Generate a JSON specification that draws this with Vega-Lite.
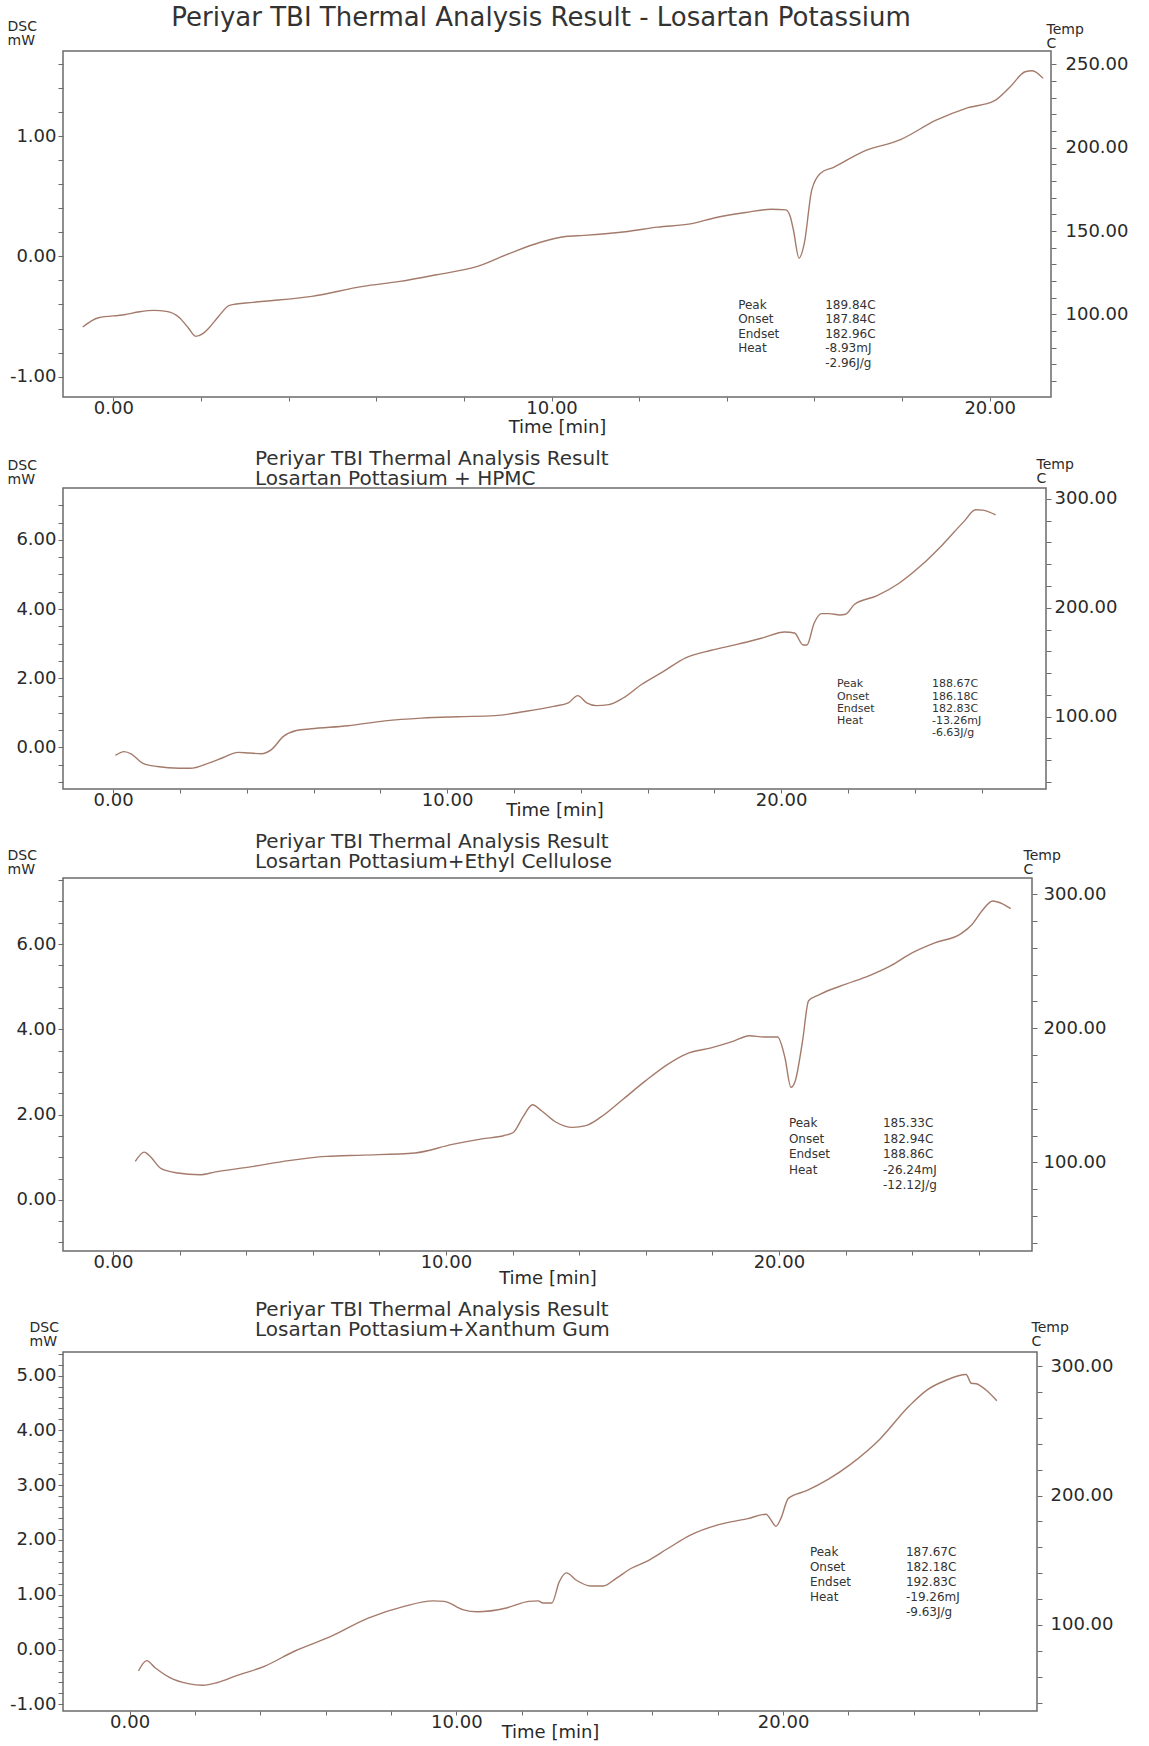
{
  "$schema": "https://vega.github.io/schema/vega-lite/v6.json",
  "background": "white",
  "padding": {"left": 6, "top": 4, "right": 0, "bottom": 0},
  "spacing": 11,
  "datasets": {
    "lp": [
      {"t": -0.70, "v": -0.587}, {"t": -0.34, "v": -0.51}, {"t": 0.25, "v": -0.485}, {"t": 0.6, "v": -0.46},
      {"t": 0.92, "v": -0.449}, {"t": 1.21, "v": -0.457}, {"t": 1.51, "v": -0.51}, {"t": 1.7, "v": -0.59},
      {"t": 1.88, "v": -0.665}, {"t": 2.05, "v": -0.64}, {"t": 2.18, "v": -0.596}, {"t": 2.4, "v": -0.5},
      {"t": 2.65, "v": -0.407}, {"t": 3.19, "v": -0.382}, {"t": 4.53, "v": -0.332}, {"t": 5.70, "v": -0.249},
      {"t": 6.54, "v": -0.208}, {"t": 7.38, "v": -0.152}, {"t": 8.31, "v": -0.083}, {"t": 9.06, "v": 0.028},
      {"t": 9.73, "v": 0.116}, {"t": 10.32, "v": 0.166}, {"t": 10.74, "v": 0.175}, {"t": 11.74, "v": 0.208},
      {"t": 12.42, "v": 0.244}, {"t": 13.17, "v": 0.271}, {"t": 13.76, "v": 0.324}, {"t": 14.43, "v": 0.366},
      {"t": 15.02, "v": 0.393}, {"t": 15.35, "v": 0.388}, {"t": 15.45, "v": 0.33}, {"t": 15.52, "v": 0.222},
      {"t": 15.65, "v": -0.014}, {"t": 15.77, "v": 0.111}, {"t": 15.94, "v": 0.554}, {"t": 16.14, "v": 0.693},
      {"t": 16.44, "v": 0.742}, {"t": 17.11, "v": 0.873}, {"t": 17.95, "v": 0.970}, {"t": 18.79, "v": 1.136},
      {"t": 19.46, "v": 1.233}, {"t": 20.10, "v": 1.294}, {"t": 20.47, "v": 1.413}, {"t": 20.81, "v": 1.537},
      {"t": 20.97, "v": 1.546}, {"t": 21.22, "v": 1.482}
    ],
    "hpmc": [
      {"t": 0.07, "v": -0.23}, {"t": 0.33, "v": -0.12}, {"t": 0.55, "v": -0.19}, {"t": 0.88, "v": -0.45},
      {"t": 1.32, "v": -0.55}, {"t": 1.98, "v": -0.60}, {"t": 2.31, "v": -0.60}, {"t": 2.86, "v": -0.45},
      {"t": 3.30, "v": -0.29}, {"t": 3.74, "v": -0.14}, {"t": 4.07, "v": -0.16}, {"t": 4.44, "v": -0.18},
      {"t": 4.73, "v": -0.07}, {"t": 5.10, "v": 0.32}, {"t": 5.49, "v": 0.49}, {"t": 5.93, "v": 0.54},
      {"t": 7.03, "v": 0.63}, {"t": 8.13, "v": 0.77}, {"t": 9.23, "v": 0.85}, {"t": 10.33, "v": 0.89},
      {"t": 11.43, "v": 0.92}, {"t": 12.31, "v": 1.04}, {"t": 13.19, "v": 1.19}, {"t": 13.63, "v": 1.29},
      {"t": 13.91, "v": 1.50}, {"t": 14.18, "v": 1.29}, {"t": 14.46, "v": 1.21}, {"t": 14.84, "v": 1.24},
      {"t": 15.27, "v": 1.43}, {"t": 15.82, "v": 1.82}, {"t": 16.48, "v": 2.20}, {"t": 17.14, "v": 2.59},
      {"t": 17.91, "v": 2.81}, {"t": 18.68, "v": 2.98}, {"t": 19.45, "v": 3.17}, {"t": 20.11, "v": 3.34},
      {"t": 20.40, "v": 3.31}, {"t": 20.66, "v": 2.96}, {"t": 20.77, "v": 2.96}, {"t": 20.99, "v": 3.60},
      {"t": 21.21, "v": 3.87}, {"t": 21.43, "v": 3.87}, {"t": 21.76, "v": 3.83}, {"t": 21.93, "v": 3.85},
      {"t": 22.20, "v": 4.14}, {"t": 22.86, "v": 4.38}, {"t": 23.52, "v": 4.74}, {"t": 24.18, "v": 5.25},
      {"t": 24.84, "v": 5.87}, {"t": 25.49, "v": 6.55}, {"t": 25.82, "v": 6.87}, {"t": 26.04, "v": 6.86},
      {"t": 26.42, "v": 6.72}
    ],
    "ethyl": [
      {"t": 0.67, "v": 0.90}, {"t": 0.94, "v": 1.12}, {"t": 1.09, "v": 1.04}, {"t": 1.45, "v": 0.73},
      {"t": 1.94, "v": 0.63}, {"t": 2.61, "v": 0.59}, {"t": 3.05, "v": 0.65}, {"t": 4.17, "v": 0.78},
      {"t": 5.28, "v": 0.92}, {"t": 6.40, "v": 1.02}, {"t": 7.51, "v": 1.05}, {"t": 9.07, "v": 1.10},
      {"t": 10.19, "v": 1.30}, {"t": 11.08, "v": 1.43}, {"t": 11.75, "v": 1.51}, {"t": 12.02, "v": 1.58},
      {"t": 12.31, "v": 1.94}, {"t": 12.60, "v": 2.23}, {"t": 12.87, "v": 2.09}, {"t": 13.31, "v": 1.82},
      {"t": 13.80, "v": 1.70}, {"t": 14.20, "v": 1.74}, {"t": 14.65, "v": 1.94}, {"t": 15.32, "v": 2.36},
      {"t": 15.99, "v": 2.79}, {"t": 16.66, "v": 3.18}, {"t": 17.21, "v": 3.42}, {"t": 17.99, "v": 3.57},
      {"t": 18.66, "v": 3.73}, {"t": 19.11, "v": 3.85}, {"t": 19.56, "v": 3.82}, {"t": 19.96, "v": 3.82},
      {"t": 20.18, "v": 3.34}, {"t": 20.36, "v": 2.64}, {"t": 20.49, "v": 2.79}, {"t": 20.71, "v": 3.73},
      {"t": 20.89, "v": 4.67}, {"t": 21.23, "v": 4.82}, {"t": 22.01, "v": 5.06}, {"t": 22.68, "v": 5.25},
      {"t": 23.35, "v": 5.49}, {"t": 24.01, "v": 5.80}, {"t": 24.68, "v": 6.03}, {"t": 25.46, "v": 6.24},
      {"t": 25.80, "v": 6.46}, {"t": 26.13, "v": 6.81}, {"t": 26.42, "v": 7.01}, {"t": 26.64, "v": 6.97},
      {"t": 26.96, "v": 6.83}
    ],
    "xanthum": [
      {"t": 0.27, "v": -0.39}, {"t": 0.52, "v": -0.20}, {"t": 0.78, "v": -0.33}, {"t": 1.23, "v": -0.51},
      {"t": 1.79, "v": -0.62}, {"t": 2.24, "v": -0.65}, {"t": 2.69, "v": -0.60}, {"t": 3.25, "v": -0.48},
      {"t": 4.14, "v": -0.30}, {"t": 5.04, "v": -0.03}, {"t": 6.16, "v": 0.24}, {"t": 7.28, "v": 0.57},
      {"t": 8.40, "v": 0.79}, {"t": 9.29, "v": 0.89}, {"t": 9.63, "v": 0.88}, {"t": 10.19, "v": 0.73},
      {"t": 10.64, "v": 0.69}, {"t": 11.53, "v": 0.76}, {"t": 12.21, "v": 0.88}, {"t": 12.50, "v": 0.89},
      {"t": 12.65, "v": 0.85}, {"t": 12.92, "v": 0.85}, {"t": 13.15, "v": 1.24}, {"t": 13.37, "v": 1.40},
      {"t": 13.66, "v": 1.27}, {"t": 14.11, "v": 1.16}, {"t": 14.49, "v": 1.16}, {"t": 14.89, "v": 1.30},
      {"t": 15.34, "v": 1.48}, {"t": 15.79, "v": 1.60}, {"t": 16.46, "v": 1.84}, {"t": 17.13, "v": 2.08},
      {"t": 18.03, "v": 2.28}, {"t": 18.92, "v": 2.39}, {"t": 19.48, "v": 2.47}, {"t": 19.60, "v": 2.39},
      {"t": 19.78, "v": 2.25}, {"t": 19.93, "v": 2.39}, {"t": 20.16, "v": 2.76}, {"t": 20.72, "v": 2.90},
      {"t": 21.39, "v": 3.11}, {"t": 22.06, "v": 3.38}, {"t": 22.96, "v": 3.84}, {"t": 23.85, "v": 4.44},
      {"t": 24.41, "v": 4.74}, {"t": 24.97, "v": 4.91}, {"t": 25.60, "v": 5.02}, {"t": 25.76, "v": 4.86},
      {"t": 25.91, "v": 4.85}, {"t": 26.20, "v": 4.74}, {"t": 26.54, "v": 4.54}
    ],
    "one": [{}]
  },
  "vconcat": [
    {
      "width": 988,
      "height": 346,
      "title": {"text": "Periyar TBI Thermal Analysis Result - Losartan Potassium", "anchor": "middle", "frame": "group", "dx": -16, "fontSize": 26, "offset": -12},
      "layer": [
        {
          "data": {"name": "lp"},
          "mark": {"type": "line", "color": "#a47b6b", "strokeWidth": 1.4, "interpolate": "monotone"},
          "encoding": {
            "x": {"field": "t", "type": "quantitative", "scale": {"domain": [-1.15, 21.4], "nice": false, "zero": false},
              "axis": {"title": "Time  [min]", "values": [0, 2, 4, 6, 8, 10, 12, 14, 16, 18, 20], "labelExpr": "datum.value % 10 === 0 ? format(datum.value, '.2f') : ''", "tickSize": 4, "labelPadding": -2, "titleBaseline": "middle", "titleY": 30}},
            "y": {"field": "v", "type": "quantitative", "scale": {"domain": [-1.17, 1.71], "nice": false, "zero": false},
              "axis": {"title": ["DSC", "mW"], "values": [-1, -0.8, -0.6, -0.4, -0.2, 0, 0.2, 0.4, 0.6, 0.8, 1, 1.2, 1.4, 1.6], "labelExpr": "datum.value === round(datum.value) ? replace(format(datum.value, '.2f'), '−', '-') : ''", "titleAngle": 0, "titleAlign": "left", "titleBaseline": "top", "titleX": -56, "titleY": -32, "labelPadding": 2}}
          }
        },
        {
          "data": {"name": "one"},
          "encoding": {
            "x": {"datum": 14.26, "type": "quantitative", "scale": {"domain": [-1.15, 21.4], "nice": false, "zero": false}, "axis": null},
            "y": {"datum": -0.36, "type": "quantitative", "scale": {"domain": [-1.17, 1.71], "nice": false, "zero": false}, "axis": null}
          },
          "layer": [
            {"mark": {"type": "text", "align": "left", "baseline": "top", "fontSize": 12, "lineHeight": 14.5, "color": "#333", "text": ["Peak", "Onset", "Endset", "Heat"]}},
            {"mark": {"type": "text", "align": "left", "baseline": "top", "fontSize": 12, "lineHeight": 14.5, "color": "#333", "dx": 87, "text": ["189.84C", "187.84C", "182.96C", "-8.93mJ", "-2.96J/g"]}}
          ]
        },
        {
          "data": {"name": "one"},
          "mark": {"type": "rule", "opacity": 0},
          "encoding": {
            "y": {"datum": 150, "type": "quantitative", "scale": {"domain": [50.5, 258], "nice": false, "zero": false},
              "axis": {"orient": "right", "title": ["Temp", "C"], "values": [60, 70, 80, 90, 100, 110, 120, 130, 140, 150, 160, 170, 180, 190, 200, 210, 220, 230, 240, 250], "labelExpr": "datum.value % 50 === 0 ? format(datum.value, '.2f') : ''", "titleAngle": 0, "titleAlign": "left", "titleBaseline": "top", "titleX": -5, "titleY": -29, "labelPadding": 9}}
          }
        }
      ],
      "resolve": {"scale": {"x": "independent", "y": "independent"}}
    },
    {
      "width": 983,
      "height": 301,
      "title": {"text": ["Periyar TBI Thermal Analysis Result", "Losartan Pottasium + HPMC"], "anchor": "start", "frame": "group", "dx": 192, "fontSize": 20, "lineHeight": 20, "offset": -32},
      "layer": [
        {
          "data": {"name": "hpmc"},
          "mark": {"type": "line", "color": "#a47b6b", "strokeWidth": 1.4, "interpolate": "monotone"},
          "encoding": {
            "x": {"field": "t", "type": "quantitative", "scale": {"domain": [-1.5, 27.93], "nice": false, "zero": false},
              "axis": {"title": "Time  [min]", "values": [0, 2, 4, 6, 8, 10, 12, 14, 16, 18, 20, 22, 24, 26], "labelExpr": "datum.value % 10 === 0 ? format(datum.value, '.2f') : ''", "tickSize": 4, "labelPadding": -2, "titleBaseline": "middle", "titleY": 21}},
            "y": {"field": "v", "type": "quantitative", "scale": {"domain": [-1.2, 7.5], "nice": false, "zero": false},
              "axis": {"title": ["DSC", "mW"], "values": [-1, -0.5, 0, 0.5, 1, 1.5, 2, 2.5, 3, 3.5, 4, 4.5, 5, 5.5, 6, 6.5, 7], "labelExpr": "datum.value % 2 === 0 ? replace(format(datum.value, '.2f'), '−', '-') : ''", "titleAngle": 0, "titleAlign": "left", "titleBaseline": "top", "titleX": -56, "titleY": -30, "labelPadding": 2}}
          }
        },
        {
          "data": {"name": "one"},
          "encoding": {
            "x": {"datum": 21.67, "type": "quantitative", "scale": {"domain": [-1.5, 27.93], "nice": false, "zero": false}, "axis": null},
            "y": {"datum": 2.0, "type": "quantitative", "scale": {"domain": [-1.2, 7.5], "nice": false, "zero": false}, "axis": null}
          },
          "layer": [
            {"mark": {"type": "text", "align": "left", "baseline": "top", "fontSize": 11, "lineHeight": 12.3, "color": "#333", "text": ["Peak", "Onset", "Endset", "Heat"]}},
            {"mark": {"type": "text", "align": "left", "baseline": "top", "fontSize": 11, "lineHeight": 12.3, "color": "#333", "dx": 95, "text": ["188.67C", "186.18C", "182.83C", "-13.26mJ", "-6.63J/g"]}}
          ]
        },
        {
          "data": {"name": "one"},
          "mark": {"type": "rule", "opacity": 0},
          "encoding": {
            "y": {"datum": 150, "type": "quantitative", "scale": {"domain": [33.5, 310], "nice": false, "zero": false},
              "axis": {"orient": "right", "title": ["Temp", "C"], "values": [40, 60, 80, 100, 120, 140, 160, 180, 200, 220, 240, 260, 280, 300], "labelExpr": "datum.value % 100 === 0 ? format(datum.value, '.2f') : ''", "titleAngle": 0, "titleAlign": "left", "titleBaseline": "top", "titleX": -10, "titleY": -31, "labelPadding": 3}}
          }
        }
      ],
      "resolve": {"scale": {"x": "independent", "y": "independent"}}
    },
    {
      "width": 969,
      "height": 373,
      "title": {"text": ["Periyar TBI Thermal Analysis Result", "Losartan Pottasium+Ethyl Cellulose"], "anchor": "start", "frame": "group", "dx": 192, "fontSize": 20, "lineHeight": 20, "offset": -24},
      "layer": [
        {
          "data": {"name": "ethyl"},
          "mark": {"type": "line", "color": "#a47b6b", "strokeWidth": 1.4, "interpolate": "monotone"},
          "encoding": {
            "x": {"field": "t", "type": "quantitative", "scale": {"domain": [-1.5, 27.6], "nice": false, "zero": false},
              "axis": {"title": "Time  [min]", "values": [0, 2, 4, 6, 8, 10, 12, 14, 16, 18, 20, 22, 24, 26], "labelExpr": "datum.value % 10 === 0 ? format(datum.value, '.2f') : ''", "tickSize": 4, "labelPadding": -2, "titleBaseline": "middle", "titleY": 27}},
            "y": {"field": "v", "type": "quantitative", "scale": {"domain": [-1.2, 7.55], "nice": false, "zero": false},
              "axis": {"title": ["DSC", "mW"], "values": [-1, -0.5, 0, 0.5, 1, 1.5, 2, 2.5, 3, 3.5, 4, 4.5, 5, 5.5, 6, 6.5, 7, 7.5], "labelExpr": "datum.value % 2 === 0 ? replace(format(datum.value, '.2f'), '−', '-') : ''", "titleAngle": 0, "titleAlign": "left", "titleBaseline": "top", "titleX": -56, "titleY": -30, "labelPadding": 2}}
          }
        },
        {
          "data": {"name": "one"},
          "encoding": {
            "x": {"datum": 20.3, "type": "quantitative", "scale": {"domain": [-1.5, 27.6], "nice": false, "zero": false}, "axis": null},
            "y": {"datum": 1.92, "type": "quantitative", "scale": {"domain": [-1.2, 7.55], "nice": false, "zero": false}, "axis": null}
          },
          "layer": [
            {"mark": {"type": "text", "align": "left", "baseline": "top", "fontSize": 12, "lineHeight": 15.6, "color": "#333", "text": ["Peak", "Onset", "Endset", "Heat"]}},
            {"mark": {"type": "text", "align": "left", "baseline": "top", "fontSize": 12, "lineHeight": 15.6, "color": "#333", "dx": 94, "text": ["185.33C", "182.94C", "188.86C", "-26.24mJ", "-12.12J/g"]}}
          ]
        },
        {
          "data": {"name": "one"},
          "mark": {"type": "rule", "opacity": 0},
          "encoding": {
            "y": {"datum": 150, "type": "quantitative", "scale": {"domain": [34, 312], "nice": false, "zero": false},
              "axis": {"orient": "right", "title": ["Temp", "C"], "values": [40, 60, 80, 100, 120, 140, 160, 180, 200, 220, 240, 260, 280, 300], "labelExpr": "datum.value % 100 === 0 ? format(datum.value, '.2f') : ''", "titleAngle": 0, "titleAlign": "left", "titleBaseline": "top", "titleX": -9, "titleY": -30, "labelPadding": 6}}
          }
        }
      ],
      "resolve": {"scale": {"x": "independent", "y": "independent"}}
    },
    {
      "width": 974,
      "height": 359,
      "title": {"text": ["Periyar TBI Thermal Analysis Result", "Losartan Pottasium+Xanthum Gum"], "anchor": "start", "frame": "group", "dx": 192, "fontSize": 20, "lineHeight": 20, "offset": -20},
      "layer": [
        {
          "data": {"name": "xanthum"},
          "mark": {"type": "line", "color": "#a47b6b", "strokeWidth": 1.4, "interpolate": "monotone"},
          "encoding": {
            "x": {"field": "t", "type": "quantitative", "scale": {"domain": [-2.04, 27.77], "nice": false, "zero": false},
              "axis": {"title": "Time  [min]", "values": [0, 2, 4, 6, 8, 10, 12, 14, 16, 18, 20, 22, 24, 26], "labelExpr": "datum.value % 10 === 0 ? format(datum.value, '.2f') : ''", "tickSize": 4, "labelPadding": -2, "titleBaseline": "middle", "titleY": 21}},
            "y": {"field": "v", "type": "quantitative", "scale": {"domain": [-1.12, 5.43], "nice": false, "zero": false},
              "axis": {"title": ["DSC", "mW"], "values": [-1, -0.8, -0.6, -0.4, -0.2, 0, 0.2, 0.4, 0.6, 0.8, 1, 1.2, 1.4, 1.6, 1.8, 2, 2.2, 2.4, 2.6, 2.8, 3, 3.2, 3.4, 3.6, 3.8, 4, 4.2, 4.4, 4.6, 4.8, 5, 5.2, 5.4], "labelExpr": "datum.value === round(datum.value) ? replace(format(datum.value, '.2f'), '−', '-') : ''", "titleAngle": 0, "titleAlign": "left", "titleBaseline": "top", "titleX": -34, "titleY": -32, "labelPadding": 2}}
          }
        },
        {
          "data": {"name": "one"},
          "encoding": {
            "x": {"datum": 20.82, "type": "quantitative", "scale": {"domain": [-2.04, 27.77], "nice": false, "zero": false}, "axis": null},
            "y": {"datum": 1.87, "type": "quantitative", "scale": {"domain": [-1.12, 5.43], "nice": false, "zero": false}, "axis": null}
          },
          "layer": [
            {"mark": {"type": "text", "align": "left", "baseline": "top", "fontSize": 12, "lineHeight": 15, "color": "#333", "text": ["Peak", "Onset", "Endset", "Heat"]}},
            {"mark": {"type": "text", "align": "left", "baseline": "top", "fontSize": 12, "lineHeight": 15, "color": "#333", "dx": 96, "text": ["187.67C", "182.18C", "192.83C", "-19.26mJ", "-9.63J/g"]}}
          ]
        },
        {
          "data": {"name": "one"},
          "mark": {"type": "rule", "opacity": 0},
          "encoding": {
            "y": {"datum": 150, "type": "quantitative", "scale": {"domain": [33.5, 311], "nice": false, "zero": false},
              "axis": {"orient": "right", "title": ["Temp", "C"], "values": [40, 60, 80, 100, 120, 140, 160, 180, 200, 220, 240, 260, 280, 300], "labelExpr": "datum.value % 100 === 0 ? format(datum.value, '.2f') : ''", "titleAngle": 0, "titleAlign": "left", "titleBaseline": "top", "titleX": -6, "titleY": -32, "labelPadding": 8}}
          }
        }
      ],
      "resolve": {"scale": {"x": "independent", "y": "independent"}}
    }
  ],
  "config": {
    "font": "DejaVu Sans",
    "view": {"stroke": "#6b6b6b", "strokeWidth": 1.5},
    "axis": {
      "domain": false,
      "grid": false,
      "labelFont": "DejaVu Sans",
      "labelFontSize": 18,
      "labelColor": "#2a2a2a",
      "labelFlush": false,
      "labelOverlap": false,
      "tickColor": "#6b6b6b",
      "tickSize": 5,
      "titleFont": "DejaVu Sans",
      "titleFontSize": 14,
      "titleLineHeight": 14,
      "titleFontWeight": "normal",
      "titleColor": "#2a2a2a"
    },
    "axisX": {"titleFontSize": 18},
    "title": {"font": "DejaVu Sans", "fontWeight": "normal", "color": "#333333"},
    "text": {"font": "DejaVu Sans"}
  }
}
